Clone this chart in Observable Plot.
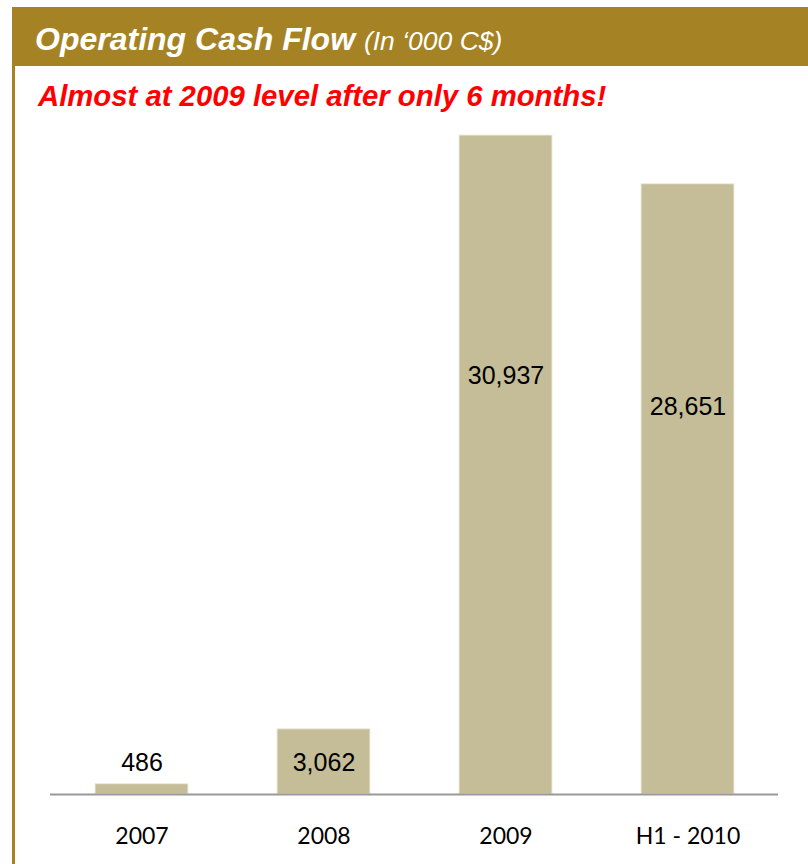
<!DOCTYPE html>
<html>
<head>
<meta charset="utf-8">
<script src="https://cdn.jsdelivr.net/npm/d3@7"></script>
<script src="https://cdn.jsdelivr.net/npm/@observablehq/plot@0.6"></script>
<style>
  html, body { margin: 0; padding: 0; background: #fff; }
  #page { position: relative; width: 808px; height: 864px; overflow: hidden; background: #fff; }
  #header { position: absolute; left: 12px; top: 7px; width: 796px; height: 59px; background: #A58324; }
  #title { position: absolute; left: 35px; top: 23px; margin: 0; white-space: nowrap;
    font-family: "Liberation Sans", Arial, sans-serif; font-weight: bold; font-style: italic;
    font-size: 32px; line-height: 32px; color: #fff; }
  #title span { font-weight: normal; font-size: 26.5px; }
  #leftline { position: absolute; left: 12px; top: 66px; width: 3px; height: 798px; background: #A58324; }
  #subtitle { position: absolute; left: 38px; top: 81px; margin: 0; white-space: nowrap;
    font-family: "Liberation Sans", Arial, sans-serif; font-weight: bold; font-style: italic;
    font-size: 29.3px; line-height: 29px; color: #FF0000; }
  #chart { position: absolute; left: 0; top: 120px; }
</style>
</head>
<body>
<div id="page">
  <div id="header"></div>
  <div id="title">Operating Cash Flow <span>(In ‘000 C$)</span></div>
  <div id="leftline"></div>
  <div id="subtitle">Almost at 2009 level after only 6 months!</div>
  <div id="chart"></div>
</div>
<script>
const categories = ["2007", "2008", "2009", "H1 - 2010"];
const values = [486, 3062, 30937, 28651];
const valueLabels = ["486", "3,062", "30,937", "28,651"];

const data = categories.map((c, i) => ({ category: c, value: values[i], label: valueLabels[i] }));
const maxValue = d3.max(values);
// label placement: inside tall bars, at a fixed low height for short bars
const labelY = d => d.value > maxValue * 0.3 ? d.value * 0.635 : maxValue * 0.0485;

const chart = Plot.plot({
  width: 808,
  height: 744,
  marginLeft: 50,
  marginRight: 30,
  marginTop: 15,
  marginBottom: 70,
  style: { fontFamily: "Lato, sans-serif", background: "transparent" },
  x: { domain: categories, paddingInner: 0.49, paddingOuter: 0.245, label: null },
  y: { domain: [0, maxValue], axis: null },
  marks: [
    Plot.barY(data, { x: "category", y: "value", fill: "#C4BD97", stroke: "#EEECE1", strokeWidth: 1 }),
    Plot.ruleY([0], { stroke: "#999999", strokeWidth: 2 }),
    Plot.axisX({ tickSize: 0, tickPadding: 33, fontSize: 23, fill: "#000", label: null, fontFamily: "Lato, sans-serif" }),
    Plot.text(data, {
      x: "category", y: labelY, text: "label",
      fontSize: 25, fill: "#000", lineAnchor: "middle",
      fontFamily: "Liberation Sans, Arial, sans-serif"
    })
  ]
});
document.getElementById("chart").appendChild(chart);
</script>
</body>
</html>
